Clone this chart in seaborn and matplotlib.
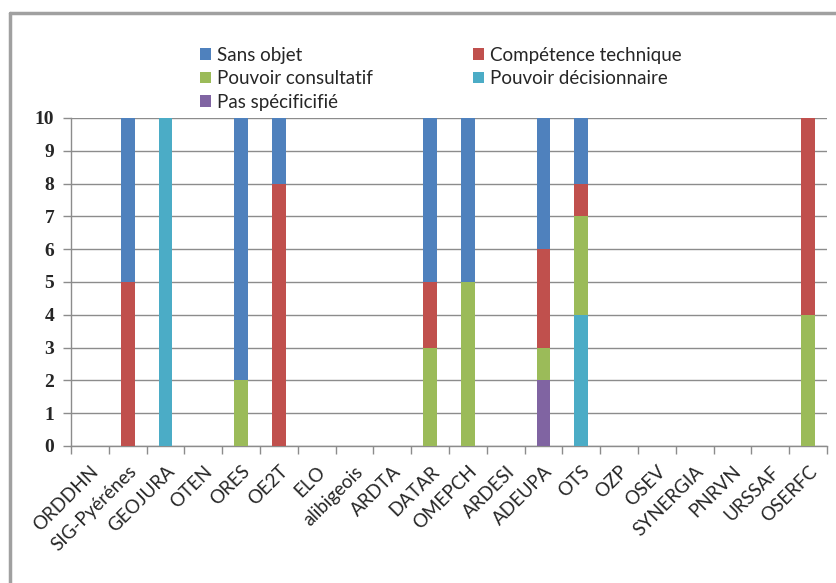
import matplotlib
matplotlib.use("Agg")
import matplotlib.pyplot as plt
import seaborn as sns
import pandas as pd
import numpy as np
from matplotlib.lines import Line2D
from matplotlib.patches import Patch

# données
observatoires = ["ORDDHN", "SIG-Pyérénes", "GEOJURA", "OTEN", "ORES", "OE2T", "ELO",
                 "alibigeois", "ARDTA", "DATAR", "OMEPCH", "ARDESI", "ADEUPA", "OTS",
                 "OZP", "OSEV", "SYNERGIA", "PNRVN", "URSSAF", "OSERFC"]
pas_specifie = [0, 0, 0, 0, 0, 0, 0, 0, 0, 0, 0, 0, 2, 0, 0, 0, 0, 0, 0, 0]
pouvoir_decisionnaire = [0, 0, 10, 0, 0, 0, 0, 0, 0, 0, 0, 0, 0, 4, 0, 0, 0, 0, 0, 0]
pouvoir_consultatif = [0, 0, 0, 0, 2, 0, 0, 0, 0, 3, 5, 0, 1, 3, 0, 0, 0, 0, 0, 4]
competence_technique = [0, 5, 0, 0, 0, 8, 0, 0, 0, 2, 0, 0, 3, 1, 0, 0, 0, 0, 0, 6]
sans_objet = [0, 5, 0, 0, 8, 2, 0, 0, 0, 5, 5, 0, 4, 2, 0, 0, 0, 0, 0, 0]

couleurs = {
    "Sans objet": "#4F81BD",
    "Compétence technique": "#C0504D",
    "Pouvoir consultatif": "#9BBB59",
    "Pouvoir décisionnaire": "#4BACC6",
    "Pas spécificifié": "#8064A2",
}

# ordre d'empilement, du bas vers le haut
couches = [
    ("Pas spécificifié", pas_specifie),
    ("Pouvoir décisionnaire", pouvoir_decisionnaire),
    ("Pouvoir consultatif", pouvoir_consultatif),
    ("Compétence technique", competence_technique),
    ("Sans objet", sans_objet),
]

df = pd.DataFrame({nom: vals for nom, vals in couches}, index=observatoires)
cumul = df.cumsum(axis=1)

sns.set_style("white")
plt.rcParams["font.family"] = ["Lato", "DejaVu Sans"]

fig = plt.figure(figsize=(8.36, 5.83), dpi=100)
ax = fig.add_axes([71 / 836, 1 - 446 / 583, (827 - 71) / 836, (446 - 118) / 583])

gris = "#8C8C8C"
# on dessine du haut vers le bas pour obtenir l'empilement
for nom, _ in reversed(couches):
    sns.barplot(x=observatoires, y=cumul[nom].values, color=couleurs[nom],
                saturation=1, width=0.37, linewidth=0, ax=ax, zorder=3)

ax.set_ylim(0, 10)
ax.set_xlim(-0.5, len(observatoires) - 0.5)
ax.set_yticks(range(0, 11))
ax.yaxis.grid(True, color=gris, linewidth=1, zorder=0)
ax.set_axisbelow(True)
for s in ["top", "right"]:
    ax.spines[s].set_visible(False)
for s in ["left", "bottom"]:
    ax.spines[s].set_color(gris)
    ax.spines[s].set_linewidth(1)

# graduations aux limites des catégories (style Excel)
ax.set_xticks(np.arange(-0.5, len(observatoires) + 0.5, 1))
ax.set_xticklabels([])
ax.set_xticks(range(len(observatoires)), minor=True)
ax.set_xticklabels(observatoires, minor=True, rotation=45, ha="right",
                   rotation_mode="anchor", fontsize=13.5)
ax.tick_params(axis="x", which="major", length=6, color=gris, width=1, direction="out", bottom=True)
ax.tick_params(axis="x", which="minor", length=0, pad=12)
ax.tick_params(axis="y", length=6, color=gris, width=1, direction="out", left=True, pad=6)
for lab in ax.get_yticklabels():
    lab.set_fontfamily("Liberation Serif")
    lab.set_fontweight("bold")
    lab.set_fontsize(14)
ax.set_xlabel("")
ax.set_ylabel("")

ordre_legende = ["Sans objet", "Pouvoir consultatif", "Pas spécificifié",
                 "Compétence technique", "Pouvoir décisionnaire"]
poignees = [Patch(facecolor=couleurs[n], edgecolor="none") for n in ordre_legende]
fig.legend(poignees, ordre_legende, ncol=2, loc="upper left",
           bbox_to_anchor=(192 / 836, 1 - 39 / 583), frameon=False, fontsize=13.5,
           handlelength=0.6, handleheight=0.6, handletextpad=0.35,
           columnspacing=5.3, labelspacing=0.35, borderaxespad=0)

# cadre du graphique
fig.add_artist(Line2D([10 / 836, 10 / 836], [0, 1 - 13 / 583], color="#A0A0A0", linewidth=2.5))
fig.add_artist(Line2D([10 / 836, 1], [1 - 13 / 583, 1 - 13 / 583], color="#A0A0A0", linewidth=2.5))

fig.savefig("out.png", dpi=100)
